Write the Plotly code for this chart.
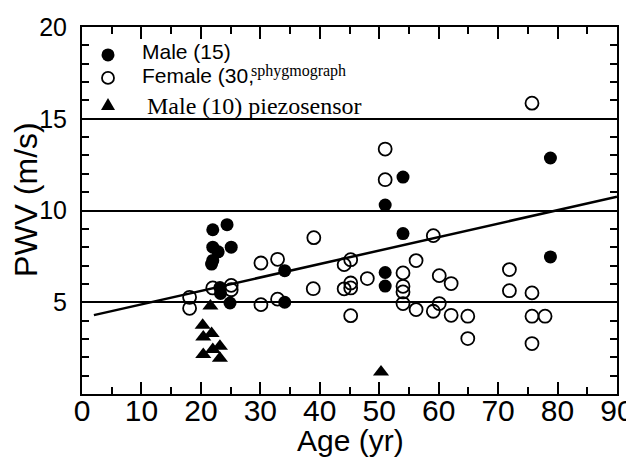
import plotly.graph_objects as go

# ---- data ----
male_age = [22.0, 24.4, 22.0, 25.1, 22.9, 22.0, 21.8, 23.2, 23.3, 24.9, 34.1, 34.1,
            51.0, 51.0, 51.0, 54.0, 54.0, 78.8, 78.8]
male_pwv = [8.95, 9.23, 8.0, 8.0, 7.75, 7.28, 7.08, 5.8, 5.48, 4.96, 6.72, 5.0,
            10.3, 6.62, 5.88, 11.82, 8.74, 12.86, 7.47]

female_age = [22.0, 25.1, 25.1, 18.1, 18.1, 30.1, 30.1, 32.9, 32.9, 39.0, 38.9,
              44.1, 44.1, 45.2, 45.2, 45.2, 45.2, 48.0, 51.0, 51.0, 54.0, 54.0,
              54.0, 54.0, 56.2, 56.2, 59.1, 59.1, 60.1, 60.1, 62.1, 62.1, 64.9,
              64.9, 71.9, 71.9, 75.7, 75.7, 75.7, 75.7, 77.9]
female_pwv = [5.78, 5.92, 5.68, 5.27, 4.67, 7.14, 4.87, 7.34, 5.17, 8.52, 5.74,
              7.05, 5.73, 7.32, 6.05, 5.78, 4.27, 6.29, 13.35, 11.68, 6.6, 5.87,
              5.56, 4.93, 7.27, 4.6, 8.63, 4.51, 6.45, 4.93, 6.02, 4.29, 4.24,
              3.02, 6.78, 5.63, 15.85, 5.51, 4.24, 2.75, 4.24]

piezo_age = [21.6, 20.3, 21.8, 20.4, 23.2, 22.0, 20.4, 23.2, 50.3]
piezo_pwv = [4.8, 3.75, 3.3, 3.1, 2.6, 2.42, 2.15, 1.95, 1.2]

fit_age = [2.0, 90.0]
fit_pwv = [4.3, 10.75]

x_ticks = [0, 10, 20, 30, 40, 50, 60, 70, 80, 90]
y_ticks = [5, 10, 15, 20]

legend_labels = ["Male (15)", "Female (30,", "Male (10) piezosensor"]
legend_note = "sphygmograph"

SANS = "Liberation Sans, Arial, sans-serif"
SERIF = "Liberation Serif, Times New Roman, serif"

fig = go.Figure()

fig.add_trace(go.Scatter(
    x=fit_age, y=fit_pwv, mode="lines", showlegend=False,
    line=dict(color="black", width=2.5)))

fig.add_trace(go.Scatter(
    x=male_age, y=male_pwv, mode="markers", name=legend_labels[0], showlegend=False,
    marker=dict(symbol="circle", size=13, color="black")))

fig.add_trace(go.Scatter(
    x=female_age, y=female_pwv, mode="markers", name=legend_labels[1], showlegend=False,
    marker=dict(symbol="circle-open", size=13, color="black",
                line=dict(color="black", width=1.8))))

fig.add_trace(go.Scatter(
    x=piezo_age, y=piezo_pwv, mode="markers", name=legend_labels[2], showlegend=False,
    marker=dict(symbol="triangle-up", size=14, color="black")))

# ---- legend drawn by hand (symbols as pixel-sized shapes, labels as text) ----
sym_x = 0.0486
row_y = [0.9238, 0.8612, 0.7878]
shapes = [
    dict(type="circle", xref="paper", yref="paper", xsizemode="pixel", ysizemode="pixel",
         xanchor=sym_x, yanchor=row_y[0], x0=-6.5, x1=6.5, y0=-6.5, y1=6.5,
         fillcolor="black", line=dict(color="black", width=0)),
    dict(type="circle", xref="paper", yref="paper", xsizemode="pixel", ysizemode="pixel",
         xanchor=sym_x, yanchor=row_y[1], x0=-6, x1=6, y0=-6, y1=6,
         fillcolor="white", line=dict(color="black", width=1.8)),
    dict(type="path", xref="paper", yref="paper", xsizemode="pixel", ysizemode="pixel",
         xanchor=sym_x, yanchor=row_y[2], path="M -7,-5 L 7,-5 L 0,7 Z",
         fillcolor="black", line=dict(color="black", width=0)),
]

annotations = [
    dict(text=legend_labels[0], x=0.1084, y=0.9335, xref="paper", yref="paper",
         xanchor="left", yanchor="middle", showarrow=False,
         font=dict(family=SANS, size=21, color="black")),
    dict(text=legend_labels[1], x=0.1084, y=0.868, xref="paper", yref="paper",
         xanchor="left", yanchor="middle", showarrow=False,
         font=dict(family=SANS, size=21, color="black")),
    dict(text=legend_note, x=0.3113, y=0.880, xref="paper", yref="paper",
         xanchor="left", yanchor="middle", showarrow=False,
         font=dict(family=SERIF, size=16, color="black")),
    dict(text=legend_labels[2], x=0.1178, y=0.7860, xref="paper", yref="paper",
         xanchor="left", yanchor="middle", showarrow=False,
         font=dict(family=SERIF, size=24, color="black")),
    dict(text="Age (yr)", x=0.501, y=-0.1265, xref="paper", yref="paper",
         xanchor="center", yanchor="middle", showarrow=False,
         font=dict(family=SANS, size=30, color="black")),
    dict(text="PWV (m/s)", x=-0.1045, y=0.529, xref="paper", yref="paper",
         xanchor="center", yanchor="middle", showarrow=False, textangle=-90,
         font=dict(family=SANS, size=32, color="black")),
]

# page has an 8px body margin, so the figure is laid out 8px in from the top-left
fig.update_layout(
    template="none",
    width=626, height=451,
    margin=dict(l=74, r=17, t=19, b=64.5, pad=0, autoexpand=False),
    paper_bgcolor="white", plot_bgcolor="white",
    font=dict(family=SANS, color="black"),
    showlegend=False,
    shapes=shapes,
    annotations=annotations,
)

fig.update_xaxes(
    range=[0, 90], tickvals=x_ticks, ticktext=[str(v) for v in x_ticks],
    ticks="inside", ticklen=12, tickwidth=1.5, tickcolor="black",
    minor=dict(ticks="inside", dtick=5, ticklen=7, tickwidth=1.5, tickcolor="black",
               showgrid=False),
    showline=True, linecolor="black", linewidth=2, mirror="ticks",
    showgrid=False, zeroline=False,
    tickfont=dict(family=SANS, size=30, color="black"),
    ticklabelstandoff=-11,
)

fig.update_yaxes(
    range=[0, 20], tickvals=y_ticks, ticktext=[str(v) for v in y_ticks],
    ticks="inside", ticklen=10, tickwidth=1.5, tickcolor="black",
    minor=dict(ticks="inside", dtick=1, ticklen=7, tickwidth=1.5, tickcolor="black",
               showgrid=False),
    showline=True, linecolor="black", linewidth=2, mirror="ticks",
    showgrid=True, gridcolor="black", gridwidth=1.5, zeroline=False,
    tickfont=dict(family=SANS, size=25, color="black"),
    ticklabelstandoff=8,
)

fig.write_html("out.html")
